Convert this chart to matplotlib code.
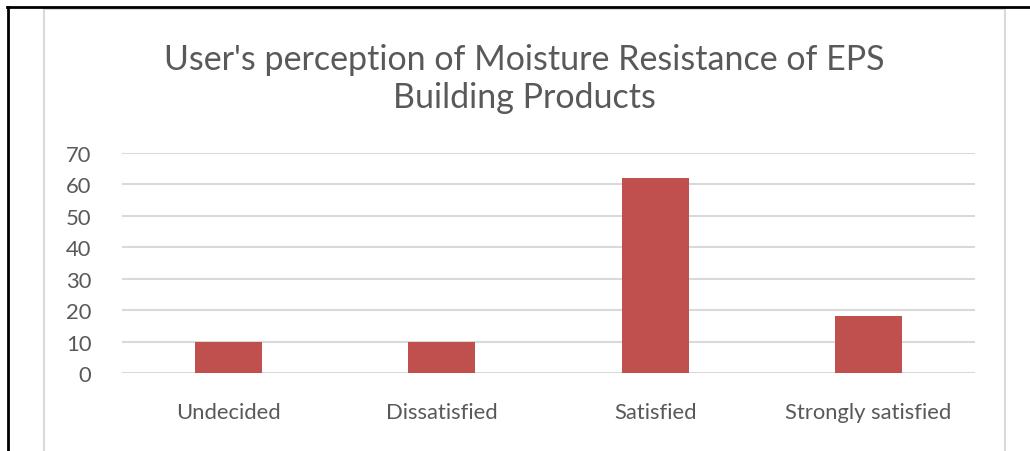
import matplotlib
matplotlib.use("Agg")
import matplotlib.pyplot as plt
from matplotlib.lines import Line2D
from matplotlib.patches import Rectangle

categories = ["Undecided", "Dissatisfied", "Satisfied", "Strongly satisfied"]
values = [10, 10, 62, 18]
yticks = [0, 10, 20, 30, 40, 50, 60, 70]
title = "User's perception of Moisture Resistance of EPS\nBuilding Products"

W, H = 1030, 452
fig = plt.figure(figsize=(W / 100, H / 100), dpi=100)
fig.patch.set_facecolor("white")
font = ["Lato", "DejaVu Sans"]
txt = "#595959"

# outer black frame lines
fig.add_artist(Line2D([7.5 / W, 7.5 / W], [0, 1 - 8 / H], color="black", lw=2, transform=fig.transFigure))
fig.add_artist(Line2D([7 / W, 1], [1 - 8 / H, 1 - 8 / H], color="black", lw=2, transform=fig.transFigure))
# chart area border
fig.add_artist(Rectangle((44 / W, -0.05), (1005 - 44) / W, 1.05 - 10 / H, fill=False,
                         edgecolor="#D9D9D9", lw=1.5, transform=fig.transFigure))

ax = fig.add_axes([122 / W, 1 - 374 / H, (975 - 122) / W, (374 - 154) / H])
x = range(len(categories))
ax.bar(x, values, width=0.314, color="#C0504D", zorder=3)
ax.set_xlim(-0.5, len(categories) - 0.5)
ax.set_ylim(0, 70)
ax.set_yticks(yticks)
ax.yaxis.grid(True, color="#D9D9D9", lw=1.5, zorder=0)
for s in ax.spines.values():
    s.set_visible(False)
ax.tick_params(length=0)
ax.set_xticks(list(x))
ax.set_xticklabels(categories, fontsize=15.8, color=txt, family=font)
ax.tick_params(axis="x", pad=21)
ax.tick_params(axis="y", pad=22)
for lab in ax.get_yticklabels():
    lab.set_fontsize(15.8)
    lab.set_color(txt)
    lab.set_family(font)

fig.text(524.5 / W, 1 - 79 / H, title, ha="center", va="center", fontsize=24.5,
         color=txt, family=font, linespacing=1.25)

fig.savefig("out.png", dpi=100, facecolor="white")
